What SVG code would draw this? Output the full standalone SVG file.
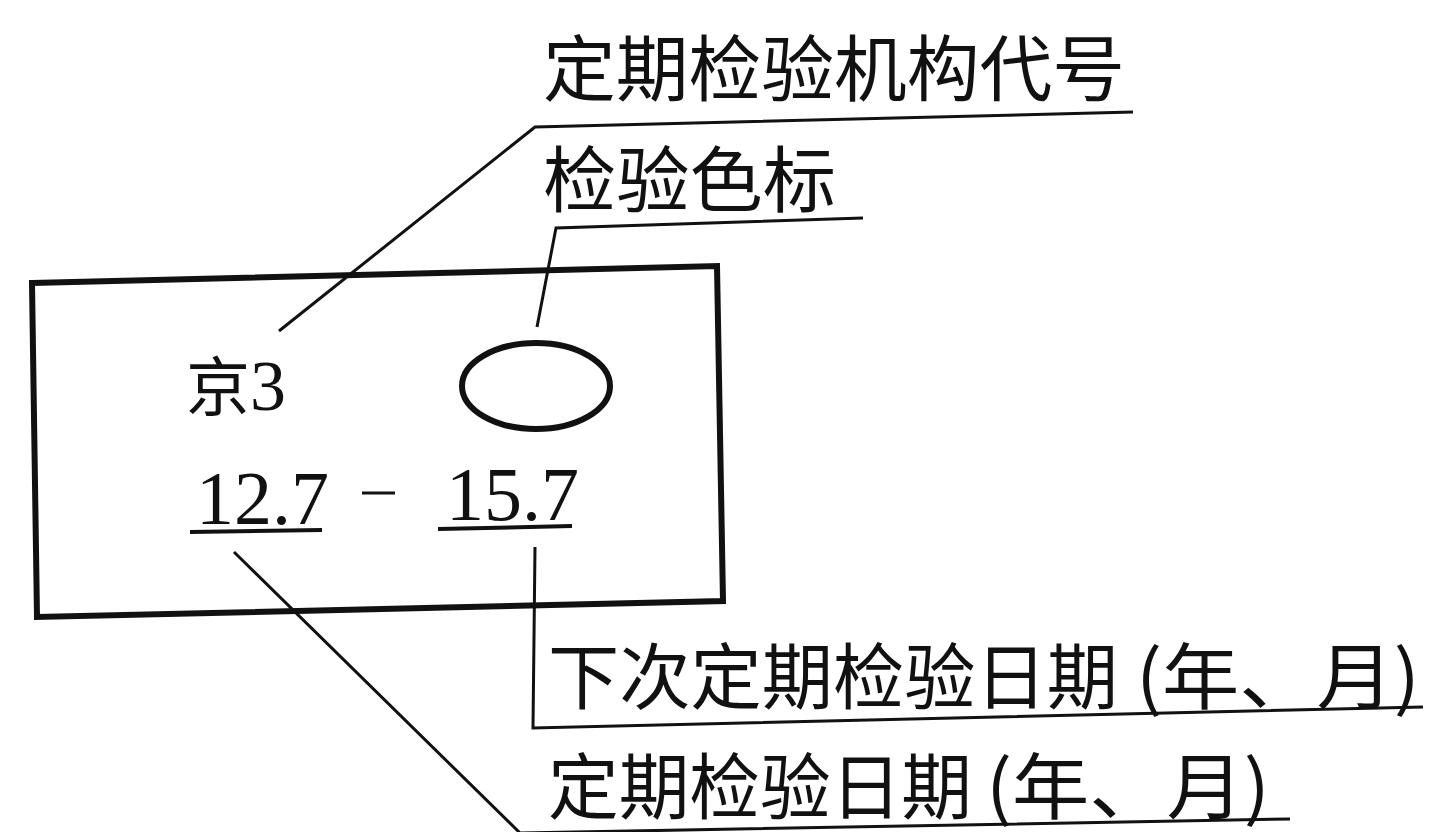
<svg xmlns="http://www.w3.org/2000/svg" width="1431" height="832" viewBox="0 0 1431 832">
<style>
.cjk{font-family:"Noto Sans CJK SC","Noto Sans",sans-serif;font-size:72px;fill:#111}
.num{font-family:"Liberation Serif","Times New Roman",serif;fill:#111}
.lead{fill:none;stroke:#111;stroke-width:3;stroke-linejoin:miter}
.thick{fill:none;stroke:#111;stroke-width:6}
</style>
<rect width="1431" height="832" fill="#fff"/>
<g id="card">
<polygon class="thick" points="32,283 717,266 723,601 37,617"/>
</g>
<g id="color-mark">
<ellipse class="thick" cx="536" cy="386" rx="74" ry="43" stroke-width="5"/>
</g>
<g id="agency-code">
<text x="186" y="410"><tspan class="cjk" style="font-size:64px">京</tspan><tspan class="num" style="font-size:72px">3</tspan></text>
</g>
<g id="dates">
<text class="num" x="196" y="524" style="font-size:76px">12.7</text>
<line x1="190" y1="532" x2="322" y2="530" stroke="#111" stroke-width="4"/>
<line x1="362" y1="493" x2="395" y2="493" stroke="#111" stroke-width="3"/>
<text class="num" x="446" y="520" style="font-size:76px">15.7</text>
<line x1="438" y1="529" x2="572" y2="526" stroke="#111" stroke-width="4"/>
</g>
<g id="label-agency">
<text class="cjk" x="543" y="95" textLength="582" lengthAdjust="spacingAndGlyphs">定期检验机构代号</text>
</g>
<g id="label-color">
<text class="cjk" x="543" y="206" textLength="293" lengthAdjust="spacingAndGlyphs">检验色标</text>
</g>
<g id="label-next">
<text class="cjk" y="703"><tspan x="548" textLength="570" lengthAdjust="spacingAndGlyphs">下次定期检验日期</tspan><tspan x="1136" textLength="284" lengthAdjust="spacingAndGlyphs">(年、月)</tspan></text>
</g>
<g id="label-date">
<text class="cjk" y="813"><tspan x="548" textLength="424" lengthAdjust="spacingAndGlyphs">定期检验日期</tspan><tspan x="986" textLength="284" lengthAdjust="spacingAndGlyphs">(年、月)</tspan></text>
</g>
<g id="connectors">
<polyline class="lead" points="279,331 535,127 1133,112"/>
<polyline class="lead" points="537,327 556,228 863,218"/>
<polyline class="lead" points="234,552 520,833 1290,819"/>
<polyline class="lead" points="535,547 533,728 1423,707"/>
</g>
</svg>
